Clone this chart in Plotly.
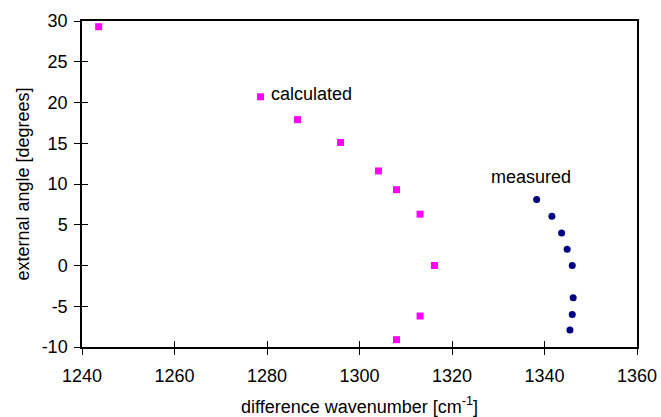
import plotly.graph_objects as go

# Calculated difference wavenumbers vs external angle
calc_wavenumber = [1243.6, 1278.6, 1286.6, 1295.9, 1304.1, 1308.0, 1313.1, 1316.2, 1313.1, 1308.0]
calc_angle = [29.3, 20.7, 17.9, 15.1, 11.6, 9.3, 6.3, 0.0, -6.2, -9.1]

# Measured difference wavenumbers vs external angle
meas_wavenumber = [1338.3, 1341.6, 1343.7, 1344.9, 1346.0, 1346.2, 1346.0, 1345.5]
meas_angle = [8.1, 6.05, 4.0, 2.0, 0.0, -3.95, -6.0, -7.9]

x_range = [1240, 1360]
y_range = [-10, 30]
x_ticks = [1240, 1260, 1280, 1300, 1320, 1340, 1360]
y_ticks = [-10, -5, 0, 5, 10, 15, 20, 25, 30]
y_tick_text = ["-10", "-5", "0", "5", "10", "15", "20", "25", "30"]

FONT = "Liberation Sans, Arial, Helvetica, sans-serif"

fig = go.Figure()
fig.add_trace(go.Scatter(
    x=calc_wavenumber, y=calc_angle, mode="markers", name="calculated",
    marker=dict(symbol="square", size=7, color="#FF00FF"),
))
fig.add_trace(go.Scatter(
    x=meas_wavenumber, y=meas_angle, mode="markers", name="measured",
    marker=dict(symbol="circle", size=7, color="#000080"),
))
# empty trace so the inner-tick overlay axes get drawn
fig.add_trace(go.Scatter(x=[], y=[], xaxis="x2", yaxis="y2", showlegend=False, hoverinfo="skip"))

axis_common = dict(
    showgrid=False, zeroline=False, tickfont=dict(size=18, color="black", family=FONT),
    ticklen=6, tickwidth=1.2, tickcolor="black", automargin=False,
)

fig.update_layout(
    width=661, height=417,
    margin=dict(l=82, r=24, t=21, b=70),
    paper_bgcolor="white", plot_bgcolor="white",
    showlegend=False,
    font=dict(family=FONT, size=18, color="black"),
    xaxis=dict(
        range=x_range, tickvals=x_ticks, ticks="outside",
        showline=True, linecolor="black", linewidth=1.5, mirror=True,
        title=dict(text="difference wavenumber [cm<sup>-1</sup>]", font=dict(size=18), standoff=16),
        ticklabelstandoff=6,
        **axis_common,
    ),
    yaxis=dict(
        range=y_range, tickvals=y_ticks, ticktext=y_tick_text, ticks="outside",
        showline=True, linecolor="black", linewidth=1.5, mirror=True,
        title=dict(text="external angle [degrees]", font=dict(size=18), standoff=7),
        ticklabelstandoff=3,
        **axis_common,
    ),
    xaxis2=dict(
        range=x_range, tickvals=x_ticks, ticks="inside", overlaying="x", anchor="y2",
        showticklabels=False, showline=False, **axis_common,
    ),
    yaxis2=dict(
        range=y_range, tickvals=y_ticks, ticks="inside", overlaying="y", anchor="x2", side="left",
        showticklabels=False, showline=False, **axis_common,
    ),
    annotations=[
        dict(x=1280.4, y=21.0, xref="x", yref="y", text="calculated", showarrow=False,
             xanchor="left", yanchor="middle", font=dict(size=18)),
        dict(x=1337.1, y=10.8, xref="x", yref="y", text="measured", showarrow=False,
             xanchor="center", yanchor="middle", font=dict(size=18)),
    ],
)

fig.write_html("out.html")
